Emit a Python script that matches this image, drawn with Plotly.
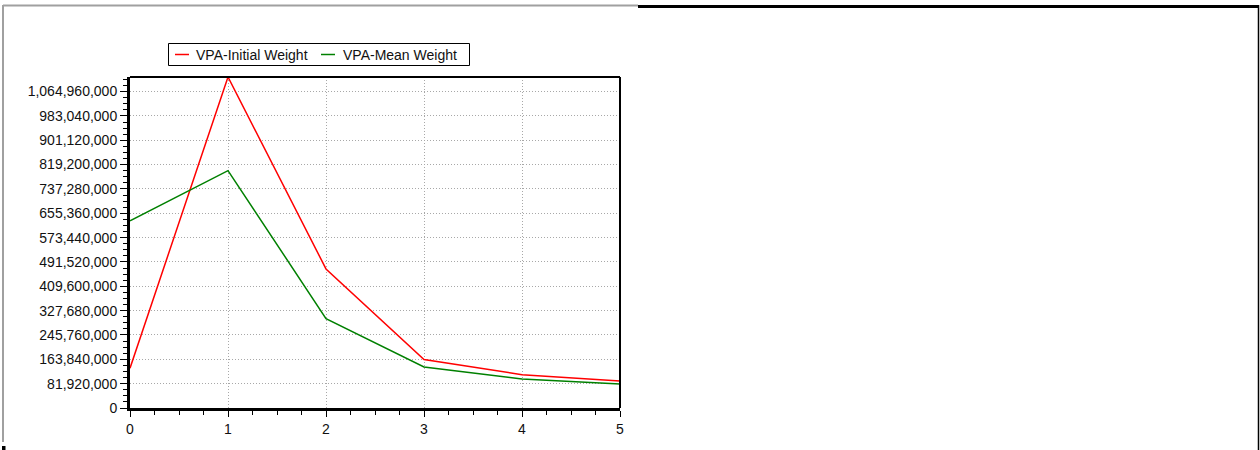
import plotly.graph_objects as go

# Age classes on the x axis
ages = [0, 1, 2, 3, 4, 5]

# Stock biomass by age under the two weighting schemes
vpa_initial_weight = [134_000_000, 1_114_000_000, 468_000_000, 163_000_000, 112_000_000, 91_000_000]
vpa_mean_weight = [630_000_000, 799_000_000, 301_000_000, 138_000_000, 98_000_000, 81_000_000]

series_names = ["VPA-Initial Weight", "VPA-Mean Weight"]
series_colors = ["#ff0000", "#008000"]

Y_STEP = 81_920_000
Y_MAX = max(vpa_initial_weight)

W, H = 1260, 450
L, R, T, B = 130, 620, 77, 408  # plot area edges in pixels

fig = go.Figure()
for name, vals, col in zip(series_names, [vpa_initial_weight, vpa_mean_weight], series_colors):
    fig.add_trace(go.Scatter(x=ages, y=vals, mode="lines", name=name,
                             line=dict(color=col, width=1.5), showlegend=False))

grid = dict(showgrid=True, gridcolor="#a8a8a8", griddash="1px,2px", gridwidth=1)
fig.update_xaxes(range=[0, 5], dtick=1, tick0=0, ticks="outside", ticklen=6, tickwidth=1,
                 tickcolor="#000", showline=True, linecolor="#000", linewidth=3,
                 minor=dict(dtick=0.25, ticks="outside", ticklen=4, tickcolor="#000"),
                 zeroline=False, tickfont=dict(size=14, color="#111"), **grid)
fig.update_yaxes(range=[0, Y_MAX], dtick=Y_STEP, tick0=0, tickformat=",d", ticks="outside",
                 ticklen=7, tickwidth=1, tickcolor="#000", showline=True, linecolor="#000",
                 linewidth=3, minor=dict(dtick=Y_STEP / 4, ticks="outside", ticklen=4, tickcolor="#000"),
                 zeroline=False, tickfont=dict(size=14, color="#111"), **grid)


def px(X):
    return (X - L) / (R - L)


def py(Y):
    return (B - Y) / (B - T)


shapes = [
    # thin top and right frame of the plot area
    dict(type="line", xref="paper", yref="paper", x0=0, x1=1, y0=1, y1=1, line=dict(color="#000", width=2)),
    dict(type="line", xref="paper", yref="paper", x0=1, x1=1, y0=0, y1=1, line=dict(color="#000", width=2)),
    # outer panel borders
    dict(type="line", xref="paper", yref="paper", x0=px(3), x1=px(638), y0=py(5.5), y1=py(5.5),
         line=dict(color="#a0a0a0", width=2)),
    dict(type="line", xref="paper", yref="paper", x0=px(3), x1=px(3), y0=py(5), y1=py(442),
         line=dict(color="#a0a0a0", width=2)),
    dict(type="line", xref="paper", yref="paper", x0=px(638), x1=px(1259), y0=py(6.5), y1=py(6.5),
         line=dict(color="#000", width=3)),
    dict(type="line", xref="paper", yref="paper", x0=px(1258.5), x1=px(1258.5), y0=py(5), y1=py(450),
         line=dict(color="#000", width=1.5)),
    dict(type="rect", xref="paper", yref="paper", x0=px(2), x1=px(5.5), y0=py(446), y1=py(450),
         fillcolor="#000", line=dict(width=0)),
    # legend box
    dict(type="rect", xref="paper", yref="paper", x0=px(168.5), x1=px(469.5), y0=py(43.5), y1=py(65.5),
         fillcolor="#fff", line=dict(color="#000", width=1)),
]

annotations = []
# legend entries: short coloured sample line followed by the series name
legend_layout = [(175, 194), (321, 341)]
for (lx, tx), name, col in zip(legend_layout, series_names, series_colors):
    shapes.append(dict(type="line", xref="paper", yref="paper", x0=px(lx), x1=px(lx + 14),
                       y0=py(54.5), y1=py(54.5), line=dict(color=col, width=1.5)))
    annotations.append(dict(xref="paper", yref="paper", x=px(tx), y=py(54.5), xanchor="left",
                            yanchor="middle", text=name, showarrow=False,
                            font=dict(size=14, color="#111")))

fig.update_layout(
    width=W, height=H,
    margin=dict(l=L, r=W - R, t=T, b=H - B),
    paper_bgcolor="#fff", plot_bgcolor="#fff",
    font=dict(family="Liberation Sans, Arial, sans-serif", size=14, color="#111"),
    showlegend=False,
    shapes=shapes,
    annotations=annotations,
)

fig.write_html("out.html")
